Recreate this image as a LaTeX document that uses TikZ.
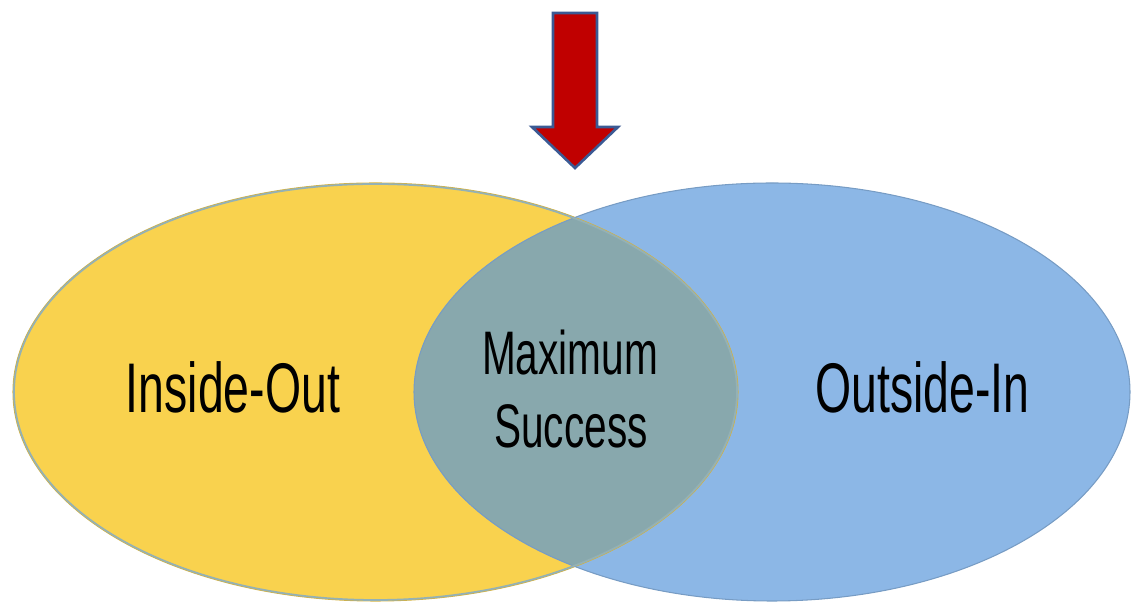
\documentclass[tikz,border=0pt]{standalone}
\usepackage{fontspec}
\setmainfont[FakeStretch=0.66]{Liberation Sans}
\definecolor{ioyellow}{HTML}{F9D24E}
\definecolor{oiblue}{HTML}{8CB7E6}
\definecolor{overlap}{HTML}{88A8AD}
\definecolor{arrowred}{HTML}{C00000}
\definecolor{arrowedge}{HTML}{3B5A94}
\begin{document}
\begin{tikzpicture} [big/.style={font=\fontsize{40}{40}\selectfont, anchor=base},
                     mid/.style={font=\fontsize{35}{35}\selectfont, anchor=base}]
	\useasboundingbox (0,0) rectangle (22.62,12.04);
	\fill [ioyellow] (7.51,4.20) ellipse [x radius=7.25, y radius=4.18];
	\fill [oiblue] (15.44,4.20) ellipse [x radius=7.16, y radius=4.18];
	\begin{scope}
	\clip (7.51,4.20) ellipse [x radius=7.25, y radius=4.18];
	\fill [overlap] (15.44,4.20) ellipse [x radius=7.16, y radius=4.18];
	\end{scope}
	\draw [ioyellow!85!black, line width=0.6pt] (7.51,4.20) ellipse [x radius=7.25, y radius=4.18];
	\draw [oiblue!85!black, line width=0.6pt] (15.44,4.20) ellipse [x radius=7.16, y radius=4.18];
	\draw [overlap!90!white, line width=1pt] (7.51,4.20) ellipse [x radius=7.23, y radius=4.16];
	% arrow pointing into the overlap
	\draw [fill=arrowred, draw=arrowedge, line width=1.5pt, line join=miter]
	  (11.06,11.78) -- (11.94,11.78) -- (11.94,9.50) -- (12.36,9.50) -- (11.50,8.68)
	  -- (10.64,9.50) -- (11.06,9.50) -- cycle;
	\draw (4.66,3.78) node [big] (inside) {Inside-Out};
	\draw (18.45,3.78) node [big] (outside) {Outside-In};
	\draw (11.40,4.54) node [mid] (maxi) {Maximum};
	\draw (11.42,3.08) node [mid] (succ) {Success};
\end{tikzpicture}
\end{document}
